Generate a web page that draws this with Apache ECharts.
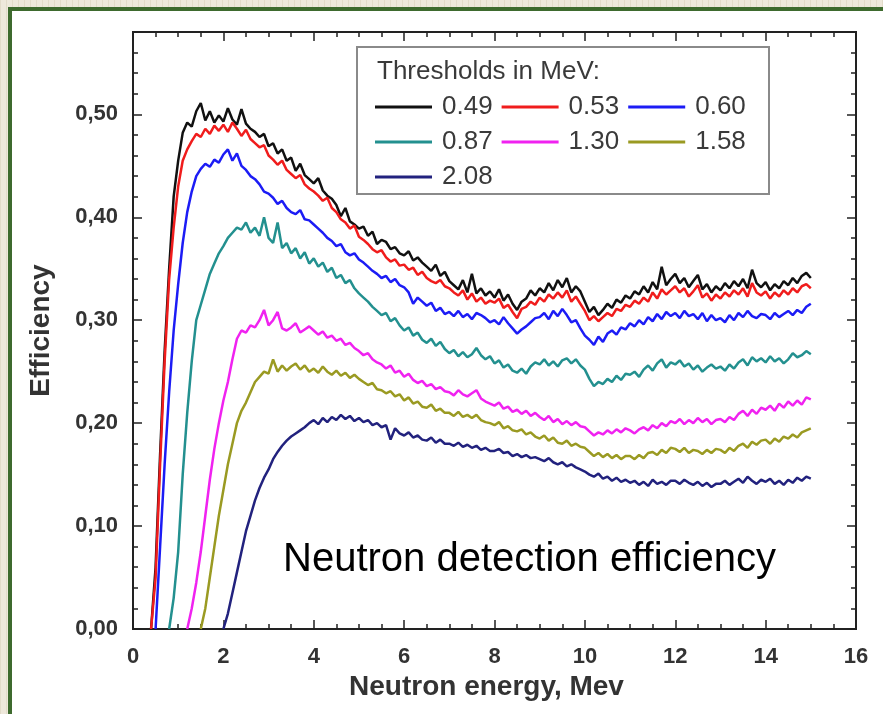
<!DOCTYPE html>
<html>
<head>
<meta charset="utf-8">
<script src="https://cdn.jsdelivr.net/npm/echarts@6/dist/echarts.min.js"></script>
<style>
  html, body { margin: 0; padding: 0; width: 883px; height: 714px; overflow: hidden; }
  body { background: repeating-linear-gradient(90deg, #e2dbc9 0px, #e2dbc9 1px, #eee8db 1px, #eee8db 6px); position: relative; }
  #frame { position: absolute; left: 8px; top: 7px; right: 0; bottom: 0; border-left: 4px solid #3e6a2e; border-top: 4px solid #3e6a2e; background: #fff; }
  #chart { position: absolute; left: 0; top: 0; width: 883px; height: 714px; }
</style>
</head>
<body>
<div id="frame"></div>
<div id="chart"></div>
<script>
// Energy grid (MeV)
const energy = [0.4,0.5,0.6,0.7,0.8,0.9,
1.0,1.1,1.2,1.3,1.4,1.5,1.6,1.7,1.8,1.9,
2.0,2.1,2.2,2.3,2.4,2.5,2.6,2.7,2.8,2.9,
3.0,3.1,3.2,3.3,3.4,3.5,3.6,3.7,3.8,3.9,
4.0,4.1,4.2,4.3,4.4,4.5,4.6,4.7,4.8,4.9,
5.0,5.1,5.2,5.3,5.4,5.5,5.6,5.7,5.8,5.9,
6.0,6.1,6.2,6.3,6.4,6.5,6.6,6.7,6.8,6.9,
7.0,7.1,7.2,7.3,7.4,7.5,7.6,7.7,7.8,7.9,
8.0,8.1,8.2,8.3,8.4,8.5,8.6,8.7,8.8,8.9,
9.0,9.1,9.2,9.3,9.4,9.5,9.6,9.7,9.8,9.9,
10.0,10.1,10.2,10.3,10.4,10.5,10.6,10.7,10.8,10.9,
11.0,11.1,11.2,11.3,11.4,11.5,11.6,11.7,11.8,11.9,
12.0,12.1,12.2,12.3,12.4,12.5,12.6,12.7,12.8,12.9,
13.0,13.1,13.2,13.3,13.4,13.5,13.6,13.7,13.8,13.9,
14.0,14.1,14.2,14.3,14.4,14.5,14.6,14.7,14.8,14.9,
15.0];

const thresholds = ['0.49','0.53','0.60','0.87','1.30','1.58','2.08'];
const colors = ['#111111','#f01c1c','#1c1cf5','#23908f','#f022f0','#9a9a22','#22227e'];

const eff049 = [0,0.06,0.17,0.27,0.35,0.42,
0.455,0.482,0.492,0.488,0.503,0.511,0.494,0.503,0.492,0.499,
0.493,0.506,0.495,0.49,0.505,0.491,0.486,0.483,0.478,0.481,
0.469,0.472,0.462,0.466,0.455,0.458,0.445,0.452,0.441,0.437,
0.433,0.438,0.426,0.421,0.418,0.412,0.401,0.409,0.396,0.393,
0.389,0.391,0.382,0.386,0.374,0.378,0.376,0.369,0.371,0.365,
0.363,0.367,0.358,0.361,0.356,0.352,0.348,0.354,0.343,0.347,
0.338,0.334,0.33,0.339,0.327,0.345,0.326,0.331,0.324,0.328,
0.322,0.33,0.319,0.325,0.316,0.31,0.318,0.321,0.329,0.324,
0.331,0.327,0.336,0.329,0.339,0.332,0.341,0.327,0.333,0.328,
0.318,0.308,0.313,0.305,0.31,0.316,0.312,0.32,0.317,0.324,
0.321,0.328,0.325,0.333,0.327,0.337,0.33,0.352,0.334,0.34,
0.345,0.336,0.341,0.332,0.338,0.344,0.33,0.335,0.327,0.333,
0.329,0.336,0.331,0.338,0.333,0.34,0.331,0.349,0.336,0.332,
0.337,0.329,0.335,0.331,0.338,0.334,0.341,0.336,0.343,0.346,
0.341];

const eff053 = [0,0.05,0.16,0.26,0.34,0.39,
0.43,0.455,0.466,0.474,0.481,0.478,0.486,0.481,0.489,0.484,
0.49,0.483,0.492,0.486,0.479,0.485,0.476,0.472,0.468,0.47,
0.46,0.456,0.451,0.455,0.446,0.442,0.438,0.441,0.432,0.428,
0.425,0.421,0.416,0.419,0.409,0.405,0.398,0.395,0.389,0.392,
0.381,0.378,0.374,0.369,0.366,0.368,0.361,0.357,0.359,0.353,
0.354,0.349,0.351,0.344,0.347,0.341,0.338,0.336,0.339,0.333,
0.331,0.327,0.324,0.329,0.32,0.326,0.318,0.322,0.316,0.319,
0.317,0.321,0.312,0.315,0.308,0.302,0.311,0.313,0.318,0.315,
0.322,0.318,0.325,0.321,0.327,0.322,0.329,0.318,0.323,0.316,
0.309,0.3,0.304,0.299,0.303,0.307,0.304,0.311,0.309,0.315,
0.313,0.319,0.316,0.322,0.318,0.327,0.321,0.33,0.325,0.329,
0.333,0.327,0.331,0.323,0.328,0.334,0.322,0.326,0.319,0.325,
0.321,0.327,0.323,0.329,0.325,0.331,0.323,0.336,0.327,0.324,
0.328,0.321,0.327,0.323,0.329,0.325,0.331,0.327,0.333,0.335,
0.331];

const eff060 = [null,0,0.08,0.16,0.23,0.29,
0.335,0.375,0.405,0.425,0.44,0.447,0.452,0.449,0.456,0.453,
0.461,0.466,0.455,0.462,0.45,0.446,0.44,0.437,0.432,0.425,
0.423,0.419,0.413,0.416,0.409,0.405,0.403,0.407,0.398,0.397,
0.393,0.389,0.385,0.38,0.377,0.372,0.374,0.366,0.363,0.365,
0.359,0.356,0.352,0.348,0.345,0.341,0.343,0.337,0.34,0.334,
0.332,0.327,0.316,0.322,0.318,0.314,0.317,0.309,0.312,0.306,
0.308,0.304,0.309,0.303,0.306,0.301,0.307,0.305,0.302,0.298,
0.3,0.296,0.303,0.297,0.292,0.287,0.291,0.294,0.298,0.302,
0.303,0.307,0.301,0.309,0.304,0.311,0.305,0.298,0.3,0.292,
0.285,0.281,0.276,0.284,0.279,0.287,0.29,0.286,0.293,0.291,
0.297,0.294,0.3,0.296,0.303,0.299,0.306,0.301,0.308,0.304,
0.307,0.302,0.309,0.304,0.306,0.301,0.307,0.299,0.305,0.3,
0.302,0.298,0.305,0.3,0.307,0.303,0.309,0.304,0.302,0.306,
0.305,0.301,0.307,0.303,0.306,0.309,0.305,0.31,0.307,0.313,
0.316];

const eff087 = [null,null,null,null,0,0.03,
0.075,0.15,0.21,0.26,0.3,0.315,0.33,0.345,0.355,0.365,
0.372,0.38,0.385,0.39,0.388,0.395,0.385,0.39,0.382,0.4,
0.38,0.375,0.395,0.37,0.375,0.365,0.37,0.36,0.366,0.355,
0.36,0.352,0.356,0.347,0.351,0.341,0.344,0.336,0.339,0.331,
0.326,0.322,0.318,0.313,0.309,0.305,0.307,0.299,0.302,0.295,
0.29,0.293,0.285,0.288,0.281,0.278,0.282,0.275,0.279,0.272,
0.268,0.271,0.265,0.269,0.264,0.267,0.273,0.266,0.262,0.265,
0.258,0.261,0.254,0.257,0.251,0.249,0.253,0.248,0.255,0.259,
0.257,0.262,0.256,0.26,0.255,0.261,0.263,0.258,0.262,0.256,
0.252,0.243,0.236,0.24,0.238,0.243,0.24,0.246,0.242,0.248,
0.247,0.25,0.245,0.252,0.256,0.251,0.258,0.262,0.254,0.259,
0.257,0.261,0.255,0.258,0.252,0.256,0.25,0.254,0.257,0.253,
0.255,0.251,0.257,0.253,0.259,0.262,0.256,0.264,0.26,0.263,
0.259,0.265,0.26,0.263,0.258,0.262,0.268,0.264,0.266,0.27,
0.267];

const eff130 = [null,null,null,null,null,null,
null,null,0,0.02,0.045,0.075,0.11,0.145,0.175,0.2,
0.222,0.24,0.262,0.282,0.29,0.288,0.295,0.293,0.3,0.31,
0.295,0.3,0.308,0.292,0.29,0.293,0.297,0.288,0.291,0.294,
0.29,0.286,0.289,0.283,0.285,0.28,0.282,0.276,0.278,0.273,
0.27,0.266,0.268,0.262,0.259,0.257,0.253,0.256,0.249,0.251,
0.245,0.248,0.242,0.239,0.241,0.236,0.238,0.233,0.235,0.231,
0.23,0.227,0.232,0.228,0.226,0.229,0.232,0.224,0.221,0.219,
0.217,0.22,0.214,0.216,0.211,0.213,0.209,0.212,0.207,0.21,
0.206,0.203,0.207,0.201,0.204,0.199,0.202,0.198,0.201,0.197,
0.196,0.192,0.188,0.191,0.189,0.193,0.19,0.194,0.191,0.195,
0.193,0.19,0.194,0.196,0.193,0.198,0.195,0.2,0.197,0.202,
0.2,0.204,0.199,0.203,0.2,0.205,0.201,0.204,0.199,0.203,
0.204,0.201,0.206,0.203,0.209,0.212,0.207,0.213,0.209,0.215,
0.213,0.217,0.212,0.219,0.215,0.221,0.217,0.222,0.218,0.225,
0.223];

const eff158 = [null,null,null,null,null,null,
null,null,null,null,null,0,0.02,0.05,0.08,0.11,
0.135,0.16,0.18,0.2,0.212,0.22,0.23,0.24,0.245,0.25,
0.248,0.262,0.25,0.256,0.251,0.255,0.258,0.252,0.256,0.25,
0.253,0.249,0.255,0.25,0.247,0.251,0.246,0.249,0.244,0.247,
0.243,0.24,0.237,0.239,0.233,0.232,0.229,0.231,0.226,0.228,
0.222,0.225,0.219,0.221,0.216,0.215,0.218,0.212,0.214,0.21,
0.21,0.207,0.211,0.206,0.208,0.205,0.208,0.203,0.201,0.2,
0.198,0.201,0.195,0.197,0.193,0.192,0.194,0.189,0.191,0.187,
0.185,0.188,0.183,0.186,0.181,0.18,0.183,0.178,0.18,0.177,
0.176,0.172,0.168,0.171,0.167,0.17,0.166,0.169,0.165,0.168,
0.168,0.165,0.169,0.166,0.171,0.172,0.169,0.174,0.171,0.176,
0.175,0.172,0.176,0.171,0.174,0.173,0.17,0.174,0.171,0.175,
0.174,0.171,0.176,0.173,0.178,0.18,0.176,0.182,0.179,0.183,
0.184,0.18,0.185,0.182,0.187,0.185,0.189,0.186,0.191,0.193,
0.195];

const eff208 = [null,null,null,null,null,null,
null,null,null,null,null,null,null,null,null,null,
0,0.015,0.035,0.055,0.075,0.095,0.11,0.125,0.137,0.147,
0.155,0.165,0.172,0.178,0.183,0.187,0.19,0.193,0.196,0.2,
0.203,0.199,0.205,0.201,0.206,0.203,0.208,0.204,0.207,0.202,
0.205,0.201,0.203,0.198,0.2,0.196,0.198,0.184,0.195,0.19,
0.188,0.191,0.186,0.188,0.184,0.183,0.186,0.181,0.184,0.18,
0.18,0.178,0.181,0.177,0.179,0.176,0.178,0.174,0.176,0.173,
0.173,0.175,0.171,0.172,0.168,0.17,0.167,0.169,0.166,0.167,
0.165,0.163,0.166,0.162,0.16,0.162,0.158,0.16,0.157,0.155,
0.153,0.15,0.148,0.151,0.146,0.148,0.144,0.147,0.143,0.145,
0.142,0.144,0.14,0.143,0.139,0.145,0.141,0.143,0.14,0.144,
0.144,0.141,0.145,0.142,0.14,0.143,0.139,0.142,0.138,0.141,
0.141,0.144,0.14,0.143,0.146,0.142,0.148,0.144,0.141,0.145,
0.143,0.146,0.141,0.144,0.14,0.145,0.142,0.147,0.144,0.148,
0.146];

const allSeries = [eff049, eff053, eff060, eff087, eff130, eff158, eff208];

const FONT = 'Liberation Sans, Arial, sans-serif';
const toPairs = vals => energy.map((e, i) => [e, vals[i]]).filter(p => p[1] !== null);

const chart = echarts.init(document.getElementById('chart'), null, {renderer: 'canvas'});

const axisLineStyle = {color: '#222', width: 2};
const tickStyle = {color: '#222', width: 1.5};
const labelStyle = {fontFamily: FONT, fontSize: 22, fontWeight: 'bold', color: '#333'};

function xAx(pos, interval, len, labels, extra) {
  return Object.assign({
    type: 'value', position: pos, min: 0, max: 16, interval: interval,
    axisLine: {show: true, onZero: false, lineStyle: axisLineStyle},
    axisTick: {show: true, inside: true, length: len, lineStyle: tickStyle},
    axisLabel: labels ? Object.assign({show: true, margin: 17}, labelStyle) : {show: false},
    splitLine: {show: false}
  }, extra || {});
}
function yAx(pos, interval, len, labels, extra) {
  return Object.assign({
    type: 'value', position: pos, min: 0, max: 0.58, interval: interval,
    axisLine: {show: true, onZero: false, lineStyle: axisLineStyle},
    axisTick: {show: true, inside: true, length: len, lineStyle: tickStyle},
    axisLabel: labels ? Object.assign({show: true, margin: 15, showMaxLabel: false,
      formatter: v => v.toFixed(2).replace('.', ',')}, labelStyle) : {show: false},
    splitLine: {show: false}
  }, extra || {});
}

const option = {
  backgroundColor: 'transparent',
  animation: false,
  grid: {left: 133, right: 27, top: 32, bottom: 85, containLabel: false},
  xAxis: [
    xAx('bottom', 2, 9, true, {
      name: 'Neutron energy, Mev', nameLocation: 'middle', nameGap: 40,
      nameTextStyle: {fontFamily: FONT, fontSize: 28, fontWeight: 'bold', color: '#333', padding: [0, 16, 0, 0]}
    }),
    xAx('bottom', 0.5, 5, false),
    xAx('top', 2, 9, false),
    xAx('top', 0.5, 5, false)
  ],
  yAxis: [
    yAx('left', 0.1, 9, true, {
      name: 'Efficiency', nameLocation: 'middle', nameGap: 78, nameRotate: 90,
      nameTextStyle: {fontFamily: FONT, fontSize: 28, fontWeight: 'bold', color: '#333'}
    }),
    yAx('left', 0.02, 5, false),
    yAx('right', 0.1, 9, false),
    yAx('right', 0.02, 5, false)
  ],
  legend: {
    show: true, left: 375, top: 94, width: 400, orient: 'horizontal', padding: 0,
    icon: 'rect', itemWidth: 57, itemHeight: 3, itemGap: 9,
    data: thresholds,
    textStyle: {fontFamily: FONT, fontSize: 26, color: '#3a3a3a', padding: [0, 0, 0, 5]}
  },
  graphic: [
    {type: 'rect', z: 0, shape: {x: 357, y: 47, width: 412, height: 147},
     style: {fill: '#fff', stroke: '#8a8a8a', lineWidth: 2}},
    {type: 'text', z: 1, x: 377, y: 72,
     style: {text: 'Thresholds in MeV:', font: '26px ' + FONT, fill: '#3a3a3a', verticalAlign: 'middle', align: 'left'}},
    {type: 'text', z: 10, x: 283, y: 560,
     style: {text: 'Neutron detection efficiency', font: '40px ' + FONT, fill: '#000', verticalAlign: 'middle', align: 'left'}}
  ],
  series: allSeries.map((vals, i) => ({
    name: thresholds[i], type: 'line', xAxisIndex: 0, yAxisIndex: 0,
    data: toPairs(vals), symbol: 'none', showSymbol: false,
    lineStyle: {color: colors[i], width: 2.5}, itemStyle: {color: colors[i]},
    z: 2 + i
  }))
};
chart.setOption(option);
</script>
</body>
</html>
